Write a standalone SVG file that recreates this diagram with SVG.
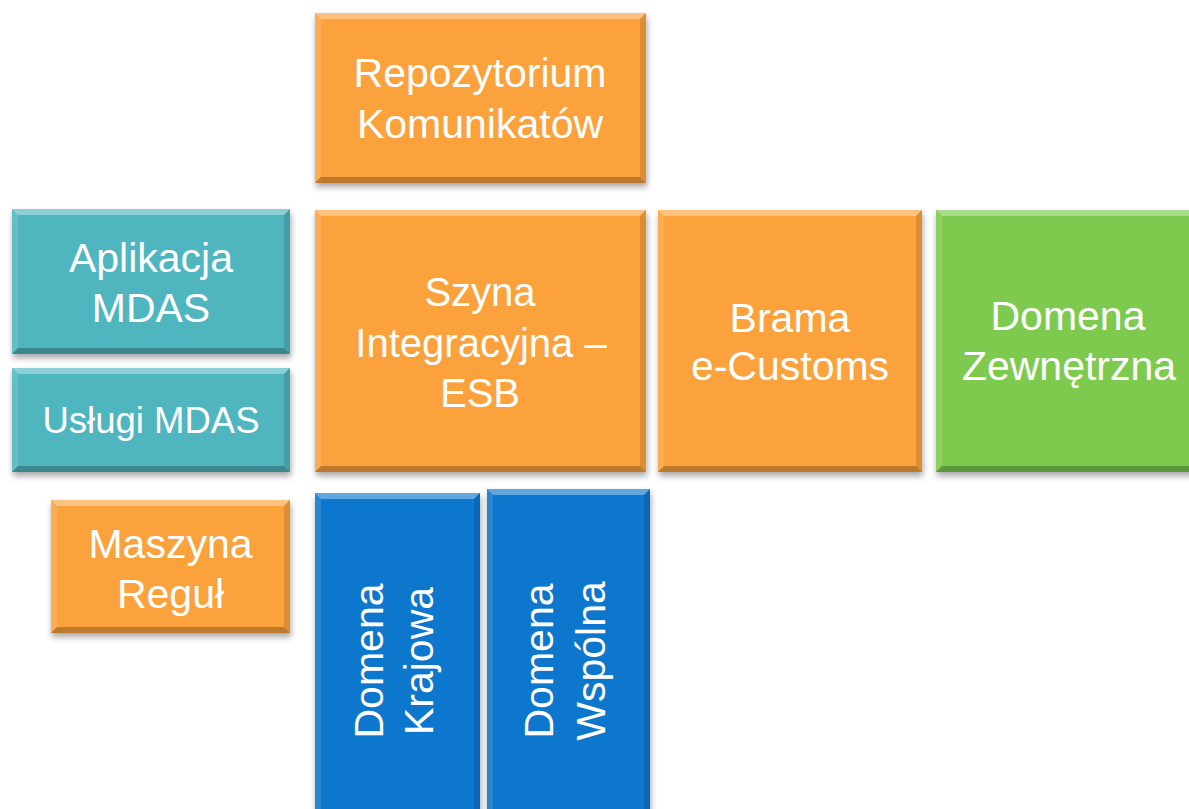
<svg xmlns="http://www.w3.org/2000/svg" width="1189" height="809" viewBox="0 0 1189 809">
<defs>
<filter id="sh" x="-10%" y="-10%" width="120%" height="130%">
<feDropShadow dx="1" dy="4" stdDeviation="3" flood-color="#000" flood-opacity="0.35"/>
</filter>
</defs>
<style>
.orange{fill:#FCA23E}
.teal{fill:#4FB5BF}
.green{fill:#7DCA4F}
.blue{fill:#0A77CD}
.hl{fill:#FFFFFF;fill-opacity:0.35}
.hl2{fill:#FFFFFF;fill-opacity:0.12}
.dk{fill:#000000;fill-opacity:0.12}
.dk2{fill:#000000;fill-opacity:0.25}
text{fill:#FFFFFF;font-family:"Liberation Sans",Arial,sans-serif;font-size:41px;text-anchor:middle}
</style>
<rect width="1189" height="809" fill="#FFFFFF"/>
<g id="connectors"></g>

<g id="repozytorium">
<rect class="orange" x="315" y="13" width="331" height="170" filter="url(#sh)"/>
<polygon class="hl" points="315,13 646,13 640,19 321,19"/>
<polygon class="hl2" points="315,13 321,19 321,177 315,183"/>
<polygon class="dk" points="646,13 646,183 640,177 640,19"/>
<polygon class="dk2" points="315,183 646,183 640,177 321,177"/>
<text x="480" y="87">Repozytorium</text>
<text x="480" y="137.5">Komunikatów</text>
</g>

<g id="aplikacja-mdas">
<rect class="teal" x="12" y="209" width="278" height="145" filter="url(#sh)"/>
<polygon class="hl" points="12,209 290,209 284,215 18,215"/>
<polygon class="hl2" points="12,209 18,215 18,348 12,354"/>
<polygon class="dk" points="290,209 290,354 284,348 284,215"/>
<polygon class="dk2" points="12,354 290,354 284,348 18,348"/>
<text x="151" y="272">Aplikacja</text>
<text x="151" y="322">MDAS</text>
</g>

<g id="uslugi-mdas">
<rect class="teal" x="12" y="368" width="278" height="104" filter="url(#sh)"/>
<polygon class="hl" points="12,368 290,368 284,374 18,374"/>
<polygon class="hl2" points="12,368 18,374 18,466 12,472"/>
<polygon class="dk" points="290,368 290,472 284,466 284,374"/>
<polygon class="dk2" points="12,472 290,472 284,466 18,466"/>
<text x="151" y="433" style="font-size:36.5px">Usługi MDAS</text>
</g>

<g id="szyna-esb">
<rect class="orange" x="315" y="210" width="331" height="262" filter="url(#sh)"/>
<polygon class="hl" points="315,210 646,210 640,216 321,216"/>
<polygon class="hl2" points="315,210 321,216 321,466 315,472"/>
<polygon class="dk" points="646,210 646,472 640,466 640,216"/>
<polygon class="dk2" points="315,472 646,472 640,466 321,466"/>
<text x="480" y="306" style="font-size:40px">Szyna</text>
<text x="481" y="356.5" style="font-size:40px">Integracyjna –</text>
<text x="480" y="406.5" style="font-size:40px">ESB</text>
</g>

<g id="brama">
<rect class="orange" x="658" y="210" width="264" height="262" filter="url(#sh)"/>
<polygon class="hl" points="658,210 922,210 916,216 664,216"/>
<polygon class="hl2" points="658,210 664,216 664,466 658,472"/>
<polygon class="dk" points="922,210 922,472 916,466 916,216"/>
<polygon class="dk2" points="658,472 922,472 916,466 664,466"/>
<text x="790" y="331.5">Brama</text>
<text x="790" y="379.5">e-Customs</text>
</g>

<g id="domena-zewnetrzna">
<rect class="green" x="936" y="210" width="264" height="262" filter="url(#sh)"/>
<polygon class="hl" points="936,210 1200,210 1194,216 942,216"/>
<polygon class="hl2" points="936,210 942,216 942,466 936,472"/>
<polygon class="dk2" points="936,472 1200,472 1194,466 942,466"/>
<text x="1068" y="330">Domena</text>
<text x="1069" y="380">Zewnętrzna</text>
</g>

<g id="maszyna-regul">
<rect class="orange" x="51" y="500" width="239" height="133" filter="url(#sh)"/>
<polygon class="hl" points="51,500 290,500 284,506 57,506"/>
<polygon class="hl2" points="51,500 57,506 57,627 51,633"/>
<polygon class="dk" points="290,500 290,633 284,627 284,506"/>
<polygon class="dk2" points="51,633 290,633 284,627 57,627"/>
<text x="170.5" y="558">Maszyna</text>
<text x="170.5" y="608">Reguł</text>
</g>

<g id="domena-krajowa">
<rect class="blue" x="315" y="493" width="165" height="330" filter="url(#sh)"/>
<polygon class="hl" points="315,493 480,493 474,499 321,499"/>
<polygon class="hl2" points="315,493 321,499 321,830 315,830"/>
<polygon class="dk" points="480,493 480,830 474,830 474,499"/>
<text transform="translate(383,661) rotate(-90)" x="0" y="0">Domena</text>
<text transform="translate(433,661) rotate(-90)" x="0" y="0">Krajowa</text>
</g>

<g id="domena-wspolna">
<rect class="blue" x="487" y="489" width="163" height="334" filter="url(#sh)"/>
<polygon class="hl" points="487,489 650,489 644,495 493,495"/>
<polygon class="hl2" points="487,489 493,495 493,830 487,830"/>
<polygon class="dk" points="650,489 650,830 644,830 644,495"/>
<text transform="translate(553,661) rotate(-90)" x="0" y="0">Domena</text>
<text transform="translate(605,661) rotate(-90)" x="0" y="0">Wspólna</text>
</g>
</svg>
